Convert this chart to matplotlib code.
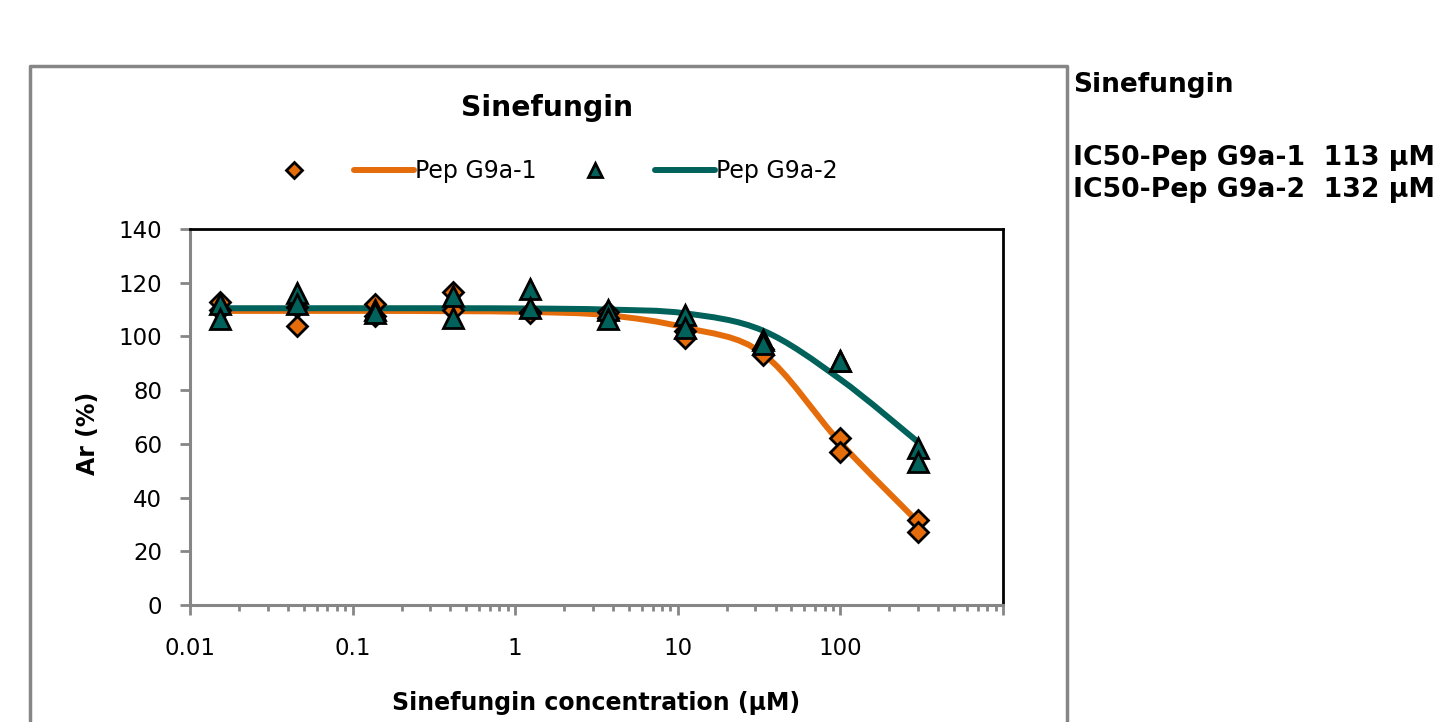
import numpy as np
import matplotlib
matplotlib.use("Agg")
import matplotlib.pyplot as plt
from matplotlib.path import Path
from matplotlib.patches import PathPatch
from matplotlib.lines import Line2D

# concentrations (uM), 3-fold dilution series
conc = [0.0152, 0.0457, 0.137, 0.412, 1.23, 3.70, 11.1, 33.3, 100, 300]

# Pep G9a-1 replicates (Ar %)
g1_rep1 = [113, 111, 112, 116.5, 109, 109, 102, 95.5, 62, 31.5]
g1_rep2 = [110, 104, 107.5, 110, 108.7, 107, 99.5, 93, 57, 27]
# Pep G9a-2 replicates (Ar %)
g2_rep1 = [112, 116, 110, 115, 117.6, 110, 108, 98.7, 91, 58.5]
g2_rep2 = [106.5, 112, 108.7, 107, 110.5, 106.5, 103, 97, 91, 53.3]

# fitted curves
fit1 = [109.5, 109.5, 109.5, 109.4, 109.1, 107.9, 103.3, 93.6, 60.4, 30.9]
fit2 = [110.5, 110.5, 110.5, 110.5, 110.4, 110, 108.6, 102.2, 84, 60.7]

labels = ["Pep G9a-1", "Pep G9a-2"]
ic50 = ["113 µM", "132 µM"]

orange = "#E46C0A"
green = "#00625A"
gray = "#868686"


def smooth_path(x, y):
    """Catmull-Rom through the points in log-x space, drawn as Bezier."""
    lx = np.log10(x)
    y = np.asarray(y, float)
    n = len(lx)
    verts = [(x[0], y[0])]
    codes = [Path.MOVETO]
    for i in range(n - 1):
        a = max(i - 1, 0)
        b = min(i + 2, n - 1)
        c1 = (lx[i] + (lx[i + 1] - lx[a]) / 6, y[i] + (y[i + 1] - y[a]) / 6)
        c2 = (lx[i + 1] - (lx[b] - lx[i]) / 6, y[i + 1] - (y[b] - y[i]) / 6)
        verts += [(10 ** c1[0], c1[1]), (10 ** c2[0], c2[1]), (x[i + 1], y[i + 1])]
        codes += [Path.CURVE4] * 3
    return Path(verts, codes)


W, H = 1438, 722
fig = plt.figure(figsize=(W / 100, H / 100), dpi=100)
ax = fig.add_axes([190 / W, 1 - 605 / H, (1003 - 190) / W, (605 - 229) / H])

ax.add_patch(PathPatch(smooth_path(conc, fit1), fill=False, edgecolor=orange,
                       lw=4.3, capstyle="round", zorder=2))
ax.add_patch(PathPatch(smooth_path(conc, fit2), fill=False, edgecolor=green,
                       lw=4.3, capstyle="round", zorder=2))

for rep in (g1_rep1, g1_rep2):
    ax.plot(conc, rep, ls="none", marker="D", ms=10.5, mfc=orange,
            mec="black", mew=2, zorder=3)
for rep in (g2_rep1, g2_rep2):
    ax.plot(conc, rep, ls="none", marker="^", ms=14, mfc=green,
            mec="black", mew=2, zorder=4)

ax.set_xscale("log")
ax.set_xlim(0.01, 1000)
ax.set_ylim(0, 140)
ax.set_yticks(range(0, 141, 20))
ax.set_xticks([0.01, 0.1, 1, 10, 100, 1000])
ax.set_xticklabels(["0.01", "0.1", "1", "10", "100", ""])

for s in ("top", "right"):
    ax.spines[s].set_color("black")
    ax.spines[s].set_linewidth(2)
for s in ("left", "bottom"):
    ax.spines[s].set_color(gray)
    ax.spines[s].set_linewidth(2.2)
ax.tick_params(axis="both", which="major", direction="out", length=7, width=2,
               color=gray, labelsize=16.5, pad=13)
ax.tick_params(axis="x", which="minor", direction="out", length=4, width=2,
               color=gray)
ax.tick_params(axis="x", which="major", pad=16)

fig.text(596 / W, 1 - 703 / H, "Sinefungin concentration (µM)", ha="center",
         va="center", fontsize=17, fontweight="bold")
fig.text(88 / W, 1 - 433 / H, "Ar (%)", ha="center", va="center",
         rotation=90, fontsize=17, fontweight="bold")
fig.text(547 / W, 1 - 108 / H, "Sinefungin", ha="center", va="center",
         fontsize=20.3, fontweight="bold")

handles = [
    Line2D([], [], ls="none", marker="D", ms=8, mfc=orange, mec="black", mew=2),
    Line2D([], [], color=orange, lw=4.3, solid_capstyle="round"),
    Line2D([], [], ls="none", marker="^", ms=10, mfc=green, mec="black", mew=2),
    Line2D([], [], color=green, lw=4.3, solid_capstyle="round"),
]
fig.legend(handles, ["", labels[0], "", labels[1]], ncol=4, loc="center",
           bbox_to_anchor=(551 / W, 1 - 171 / H), frameon=False, fontsize=17,
           handlelength=2.55, handletextpad=0.05, columnspacing=1.2)

# chart area border
fig.add_artist(Line2D([30 / W, 30 / W, 1067 / W, 1067 / W],
                      [0, 1 - 66 / H, 1 - 66 / H, 0], color=gray, lw=2.5,
                      transform=fig.transFigure))

fig.text(1073 / W, 1 - 85 / H, "Sinefungin", ha="left", va="center",
         fontsize=19, fontweight="bold")
for i, lab in enumerate(labels):
    fig.text(1073 / W, 1 - (158 + 32 * i) / H, f"IC50-{lab}  {ic50[i]}",
             ha="left", va="center", fontsize=19.2, fontweight="bold")

fig.savefig("out.png", dpi=100)
